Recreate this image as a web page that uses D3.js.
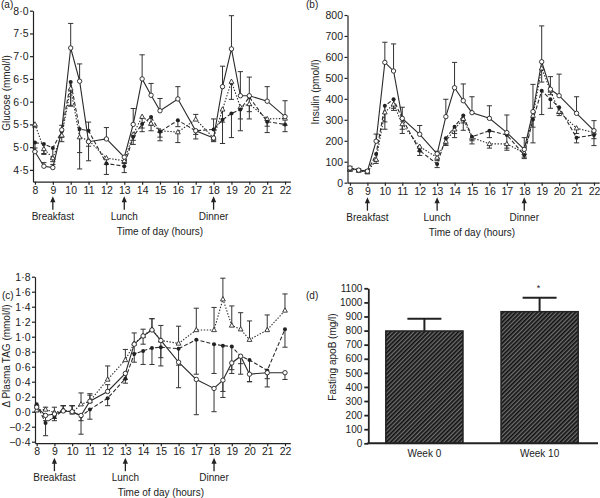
<!DOCTYPE html>
<html><head><meta charset="utf-8">
<script src="https://cdn.jsdelivr.net/npm/d3@7"></script>
<style>body{margin:0;background:#fff} text{font-family:"Liberation Sans",Arial,Helvetica,sans-serif;fill:#222}</style>
</head><body><svg id="chart" width="600" height="498"></svg>
<script>
// ---------- data ----------
const hours = [8,8.5,9,9.5,10,10.5,11,12,13,13.5,14,14.5,15,16,17,18,18.5,19,19.5,20,21,22];
const hourTicks = [8,9,10,11,12,13,14,15,16,17,18,19,20,21,22];
const mealHours = [9,13,18];
const mealLabels = ["Breakfast","Lunch","Dinner"];

// (a) Glucose (mmol/l)
const glucoseOpen      = [4.90,4.58,4.55,5.38,7.18,6.45,5.12,5.18,4.78,5.50,6.50,6.14,5.80,6.06,5.36,5.20,6.33,7.16,6.13,6.13,6.01,5.67];
const glucoseOpenErr   = [4.98,4.66,4.62,5.48,7.72,6.83,4.70,5.43,4.70,5.85,7.03,6.40,6.07,6.33,5.28,5.12,6.78,7.89,6.66,6.54,6.33,6.02];
const glucoseFilled    = [5.10,5.07,4.98,5.35,6.43,5.40,5.36,4.64,4.58,5.23,5.51,5.66,5.34,5.59,5.36,5.39,5.60,5.74,5.83,6.10,5.56,5.50];
const glucoseFilledErr = [4.90,4.86,4.76,5.22,5.90,4.52,5.55,4.40,4.44,5.06,5.34,5.48,5.14,5.45,5.18,5.62,5.08,5.21,5.36,5.78,5.32,5.34];
const glucoseTri       = [5.50,4.96,4.76,5.26,6.29,5.22,5.15,4.76,4.70,5.28,5.67,5.52,5.36,5.33,5.61,5.20,5.83,6.44,5.88,5.95,5.62,5.63];
const glucoseTriErr    = [5.44,4.84,4.68,5.12,5.92,4.88,5.02,4.62,4.64,5.15,5.42,5.36,5.22,5.10,5.72,5.14,5.55,6.05,5.62,5.62,5.46,5.48];
const glucoseTicks = [4.5,5.0,5.5,6.0,6.5,7.0,7.5,8.0];

// (b) Insulin (pmol/l)
const insulinOpen      = [70,60,55,198,574,533,307,231,138,315,453,391,334,307,239,159,339,577,446,415,331,248];
const insulinOpenErr   = [78,66,62,232,670,662,360,273,150,398,574,471,410,367,323,215,469,748,506,518,410,296];
const insulinFilled    = [68,60,52,137,367,398,305,153,89,212,267,320,219,248,228,132,302,439,398,360,215,228];
const insulinFilledErr = [56,54,44,105,255,355,235,130,72,180,215,250,185,215,165,115,190,325,355,330,190,177];
const insulinTri       = [65,58,50,110,336,374,280,172,120,196,255,305,215,185,185,142,320,546,440,339,260,239];
const insulinTriErr    = [55,52,45,92,290,345,255,150,105,178,235,285,200,165,155,122,265,480,420,320,235,210];
const insulinTicks = [0,100,200,300,400,500,600,700,800];

// (c) Delta plasma TAG (mmol/l)
const tagOpen      = [0.06,-0.05,-0.03,0.01,0.00,-0.05,0.14,0.27,0.51,0.90,1.01,1.09,0.95,0.66,0.43,0.31,0.42,0.65,0.74,0.50,0.52,0.52];
const tagOpenErr   = [0.00,-0.12,-0.09,0.08,0.08,-0.12,0.22,0.36,0.43,0.78,0.90,1.24,0.72,0.32,-0.04,0.00,0.19,0.56,0.64,0.40,0.44,0.43];
const tagFilled    = [0.10,-0.15,-0.07,0.02,0.00,-0.06,0.03,0.18,0.44,0.77,0.81,0.85,0.86,0.84,0.96,0.90,0.88,0.87,0.74,0.69,0.55,1.10];
const tagFilledErr = [0.05,-0.32,-0.12,0.08,0.08,-0.30,-0.10,0.08,0.38,0.66,0.63,0.63,0.61,0.62,0.50,0.51,0.27,0.51,0.50,0.40,0.33,0.86];
const tagTri       = [0.02,0.03,-0.01,0.02,-0.01,0.10,0.14,0.43,0.69,0.91,1.01,1.10,0.95,0.91,1.09,1.09,1.50,1.15,1.10,0.96,1.09,1.35];
const tagTriErr    = [0.08,0.06,0.06,0.08,0.08,0.25,0.24,0.61,0.83,1.05,1.10,1.24,1.15,1.14,1.38,1.39,1.78,1.41,1.32,1.21,1.29,1.57];
const tagTicks = [-0.4,-0.2,0.0,0.2,0.4,0.6,0.8,1.0,1.2,1.4,1.6,1.8];

// (d) Fasting apoB (mg/l)
const weeks = ["Week 0","Week 10"];
const apoB = [797,934];
const apoBErr = [884,1033];
const apoBTicks = [0,100,200,300,400,500,600,700,800,900,1000,1100];

// ---------- drawing ----------
const svg = d3.select("#chart");
svg.append("rect").attr("width",600).attr("height",498).attr("fill","#fff");
const INK = "#222";
const dotFmt = d => d3.format(".1f")(d).replace(".", "\u00b7").replace("-", "\u2212");

function linePanel(p){
  const g = svg.append("g");
  const x = d3.scaleLinear().domain(p.xDomain).range(p.xRange);
  const y = d3.scaleLinear().domain(p.yDomain).range(p.yRange);
  const y0 = p.yRange[0];
  const ax = g.append("g").attr("transform",`translate(0,${y0})`)
    .call(d3.axisBottom(x).tickValues(hourTicks).tickSize(3).tickSizeOuter(0).tickPadding(1.5).tickFormat(d3.format("d")));
  const ay = g.append("g").attr("transform",`translate(${p.xRange[0]},0)`)
    .call(d3.axisLeft(y).tickValues(p.yTicks).tickSize(3).tickSizeOuter(0).tickPadding(1.5).tickFormat(p.fmt));
  [ax,ay].forEach(a=>{
    a.selectAll("path,line").attr("stroke",INK).attr("stroke-width",1.2);
    a.selectAll("text").attr("font-size",10.5).attr("fill",INK).style("font-family","'Liberation Sans',Arial,sans-serif");
  });
  g.append("text").attr("transform",`translate(${p.titleX},${p.titleY}) rotate(-90)`)
    .attr("text-anchor","middle").attr("dy","0.35em").attr("font-size",10).text(p.yTitle);
  g.append("text").attr("x",p.labelX).attr("y",p.labelY).attr("font-size",10).text(p.label);
  mealHours.forEach((t,i)=>{
    const xx = x(t);
    g.append("line").attr("x1",xx).attr("x2",xx).attr("y1",y0+17).attr("y2",y0+28)
      .attr("stroke",INK).attr("stroke-width",1.3);
    g.append("path").attr("d",`M${xx},${y0+14.5}L${xx-2.6},${y0+20.5}L${xx+2.6},${y0+20.5}Z`).attr("fill",INK);
    g.append("text").attr("x",xx).attr("y",y0+34.5).attr("dy","0.35em").attr("text-anchor","middle")
      .attr("font-size",10).text(mealLabels[i]);
  });
  g.append("text").attr("x",x(15)).attr("y",y0+49.5).attr("dy","0.35em").attr("text-anchor","middle")
    .attr("font-size",10).text("Time of day (hours)");

  const styles = {open:{dash:null}, filled:{dash:"4,2"}, tri:{dash:"1.4,1.6"}};
  p.series.forEach(s=>{
    s.vals.forEach((v,i)=>{
      const xx = x(hours[i]), e = s.errs[i];
      g.append("line").attr("x1",xx).attr("x2",xx).attr("y1",y(v)).attr("y2",y(e))
        .attr("stroke","#333").attr("stroke-width",1);
      g.append("line").attr("x1",xx-2.6).attr("x2",xx+2.6).attr("y1",y(e)).attr("y2",y(e))
        .attr("stroke","#333").attr("stroke-width",1);
    });
  });
  const line = d3.line().x((d,i)=>x(hours[i])).y(d=>y(d));
  p.series.forEach(s=>{
    g.append("path").datum(s.vals).attr("d",line).attr("fill","none").attr("stroke","#2a2a2a")
      .attr("stroke-width",1.1).attr("stroke-dasharray",styles[s.type].dash);
  });
  p.series.forEach(s=>{
    s.vals.forEach((v,i)=>{
      const xx = x(hours[i]), yy = y(v);
      if(s.type==="open"){
        g.append("circle").attr("cx",xx).attr("cy",yy).attr("r",2.2).attr("fill","#fff").attr("stroke",INK).attr("stroke-width",0.9);
      } else if(s.type==="filled"){
        g.append("circle").attr("cx",xx).attr("cy",yy).attr("r",2.0).attr("fill",INK);
      } else {
        g.append("path").attr("d",`M${xx},${yy-2.6}L${xx-2.4},${yy+1.7}L${xx+2.4},${yy+1.7}Z`)
          .attr("fill","#fff").attr("stroke",INK).attr("stroke-width",0.85);
      }
    });
  });
}

linePanel({
  xDomain:[7.89,22.3], xRange:[33,290.4],
  yDomain:[4.24,8.0], yRange:[181.7,10.7], yTicks:glucoseTicks, fmt:dotFmt,
  yTitle:"Glucose (mmol/l)", titleX:6, titleY:93, label:"(a)", labelX:1, labelY:8,
  series:[
    {type:"tri", vals:glucoseTri, errs:glucoseTriErr},
    {type:"filled", vals:glucoseFilled, errs:glucoseFilledErr},
    {type:"open", vals:glucoseOpen, errs:glucoseOpenErr}
  ]
});
linePanel({
  xDomain:[7.857,22.3], xRange:[347.5,599.2],
  yDomain:[0,800], yRange:[182.7,15], yTicks:insulinTicks, fmt:d3.format("d"),
  yTitle:"Insulin (pmol/l)", titleX:315, titleY:92, label:"(b)", labelX:306, labelY:8,
  series:[
    {type:"tri", vals:insulinTri, errs:insulinTriErr},
    {type:"filled", vals:insulinFilled, errs:insulinFilledErr},
    {type:"open", vals:insulinOpen, errs:insulinOpenErr}
  ]
});
linePanel({
  xDomain:[7.905,22.3], xRange:[35,290.3],
  yDomain:[-0.42,1.8], yRange:[443.2,276.7], yTicks:tagTicks, fmt:dotFmt,
  yTitle:"\u0394 Plasma\u2009TAG (mmol/l)", titleX:6, titleY:356, label:"(c)", labelX:2, labelY:299,
  series:[
    {type:"tri", vals:tagTri, errs:tagTriErr},
    {type:"filled", vals:tagFilled, errs:tagFilledErr},
    {type:"open", vals:tagOpen, errs:tagOpenErr}
  ]
});

(function(){
  const g = svg.append("g");
  const defs = svg.append("defs");
  const pat = defs.append("pattern").attr("id","hatch").attr("patternUnits","userSpaceOnUse")
    .attr("width",3).attr("height",3).attr("patternTransform","rotate(45)");
  pat.append("rect").attr("width",3).attr("height",3).attr("fill","#6e6e6e");
  pat.append("line").attr("x1",0.8).attr("x2",0.8).attr("y1",0).attr("y2",3).attr("stroke","#111").attr("stroke-width",1.7);
  const x = d3.scaleBand().domain(weeks).range([366.8,597.2]).paddingInner(0.33).paddingOuter(0.165);
  const y = d3.scaleLinear().domain([0,1100]).range([443.3,288.3]);
  weeks.forEach((w,i)=>{
    const cx = x(w)+x.bandwidth()/2;
    g.append("line").attr("x1",cx).attr("x2",cx).attr("y1",y(apoB[i])).attr("y2",y(apoBErr[i])).attr("stroke",INK).attr("stroke-width",2);
    g.append("line").attr("x1",cx-17).attr("x2",cx+17).attr("y1",y(apoBErr[i])).attr("y2",y(apoBErr[i])).attr("stroke",INK).attr("stroke-width",2);
  });
  g.selectAll("rect.bar").data(apoB).enter().append("rect").attr("class","bar")
    .attr("x",(d,i)=>x(weeks[i])).attr("width",x.bandwidth())
    .attr("y",d=>y(d)).attr("height",d=>y(0)-y(d))
    .attr("fill","url(#hatch)").attr("stroke",INK).attr("stroke-width",1.5);
  const ay = g.append("g").attr("transform","translate(368.3,0)")
    .call(d3.axisLeft(y).tickValues(apoBTicks).tickSize(4).tickSizeOuter(0).tickPadding(2).tickFormat(d3.format("d")));
  ay.selectAll("path,line").attr("stroke",INK).attr("stroke-width",1.8);
  ay.selectAll("text").attr("font-size",10).attr("fill",INK).style("font-family","'Liberation Sans',Arial,sans-serif");
  g.append("line").attr("x1",367.4).attr("x2",598).attr("y1",y(0)).attr("y2",y(0)).attr("stroke",INK).attr("stroke-width",2);
  weeks.forEach(w=>{
    g.append("text").attr("x",x(w)+x.bandwidth()/2).attr("y",453.5).attr("dy","0.35em").attr("text-anchor","middle").attr("font-size",10).text(w);
  });
  g.append("text").attr("x",x(weeks[1])+x.bandwidth()/2-1).attr("y",291).attr("text-anchor","middle").attr("font-size",9).text("*");
  g.append("text").attr("transform","translate(332,357) rotate(-90)").attr("text-anchor","middle").attr("dy","0.35em").attr("font-size",10).text("Fasting apoB (mg/l)");
  g.append("text").attr("x",306).attr("y",299).attr("font-size",10).text("(d)");
})();
</script></body></html>
